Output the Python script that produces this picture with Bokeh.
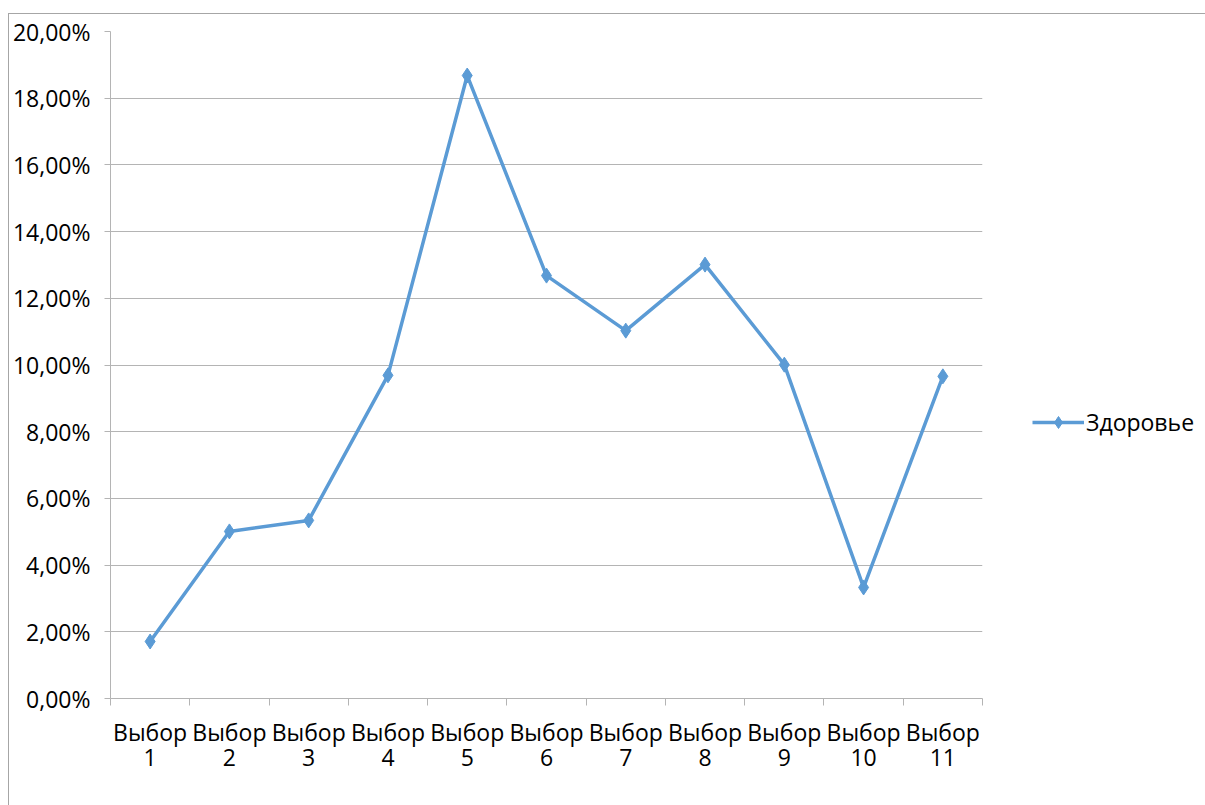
from bokeh.plotting import figure
from bokeh.layouts import row
from bokeh.models import FixedTicker, Legend, LegendItem, Range1d, ColumnDataSource
from bokeh.embed import file_html
from bokeh.resources import INLINE

categories = ["Выбор\n1", "Выбор\n2", "Выбор\n3", "Выбор\n4", "Выбор\n5", "Выбор\n6",
              "Выбор\n7", "Выбор\n8", "Выбор\n9", "Выбор\n10", "Выбор\n11"]
values_pct = [1.71, 5.01, 5.34, 9.69, 18.68, 12.68, 11.03, 13.01, 10.01, 3.33, 9.66]
y_ticks = [0, 2, 4, 6, 8, 10, 12, 14, 16, 18, 20]
y_tick_labels = ["0,00%", "2,00%", "4,00%", "6,00%", "8,00%", "10,00%",
                 "12,00%", "14,00%", "16,00%", "18,00%", "20,00%"]
series_name = "Здоровье"

FONT = "Open Sans"
BLUE = "#5B9BD5"
GRID = "#B4B4B4"

n = len(categories)
xs = [i + 0.5 for i in range(n)]
src = ColumnDataSource(dict(x=xs, y=values_pct))

main = figure(width=993, height=791, output_backend="svg", toolbar_location=None,
              x_range=Range1d(0, n), y_range=Range1d(0, 20),
              min_border_left=101, min_border_right=20, min_border_top=17, min_border_bottom=107)
main.outline_line_color = None
main.background_fill_color = "white"
main.border_fill_color = "white"

# y axis
main.yaxis.ticker = FixedTicker(ticks=y_ticks, minor_ticks=[])
main.yaxis.major_label_overrides = {t: lab for t, lab in zip(y_ticks, y_tick_labels)}
main.yaxis.major_label_text_font = FONT
main.yaxis.major_label_text_font_size = "23px"
main.yaxis.major_label_text_color = "#000000"
main.yaxis.axis_line_color = GRID
main.yaxis.major_tick_line_color = GRID
main.yaxis.major_tick_out = 6
main.yaxis.major_tick_in = 0
main.yaxis.minor_tick_line_color = None
main.yaxis.major_label_standoff = 14

# x axis
main.xaxis.ticker = FixedTicker(ticks=xs, minor_ticks=list(range(n + 1)))
main.xaxis.major_label_overrides = {x: c for x, c in zip(xs, categories)}
main.xaxis.major_label_text_font = FONT
main.xaxis.major_label_text_font_size = "23px"
main.xaxis.major_label_text_color = "#000000"
main.xaxis.major_label_text_line_height = 0.8
main.xaxis.axis_line_color = GRID
main.xaxis.major_tick_line_color = None
main.xaxis.major_tick_out = 0
main.xaxis.major_tick_in = 0
main.xaxis.minor_tick_line_color = GRID
main.xaxis.minor_tick_out = 7
main.xaxis.minor_tick_in = 0
main.xaxis.major_label_standoff = 10

main.xgrid.grid_line_color = None
main.ygrid.grid_line_color = GRID
main.ygrid.grid_line_width = 1

main.line("x", "y", source=src, line_color=BLUE, line_width=3.5)
main.scatter("x", "y", source=src, marker="diamond", size=15, fill_color=BLUE, line_color=BLUE)

# legend panel (separate figure so the legend sits outside the plot frame);
# its renderers hold points placed outside the visible range, only for the legend swatch
leg = figure(width=203, height=791, output_backend="svg", toolbar_location=None,
             x_range=Range1d(0, 1), y_range=Range1d(0, 1),
             min_border=0, min_border_left=0, min_border_right=0,
             min_border_top=0, min_border_bottom=0)
leg.axis.visible = False
leg.grid.visible = False
leg.outline_line_color = None
hidden = ColumnDataSource(dict(x=[-5, -4], y=[-5, -4]))
lr = leg.line("x", "y", source=hidden, line_color=BLUE, line_width=3.5)
mr = leg.scatter("x", "y", source=hidden, marker="diamond", size=15, fill_color=BLUE, line_color=BLUE)
legend = Legend(items=[LegendItem(label=series_name, renderers=[lr, mr])],
                location=(30, 260), label_text_font=FONT, label_text_font_size="23px",
                label_text_color="#000000",
                glyph_width=52, glyph_height=30, border_line_color=None,
                background_fill_alpha=0, padding=0, margin=0, label_standoff=2)
leg.add_layout(legend, "center")

p = row(main, leg, spacing=0)
p.styles = {"margin-left": "8px", "margin-top": "13px",
            "border-left": "1px solid #A6A6A6", "border-top": "1px solid #A6A6A6"}

open("out.html", "w").write(file_html(p, INLINE))
